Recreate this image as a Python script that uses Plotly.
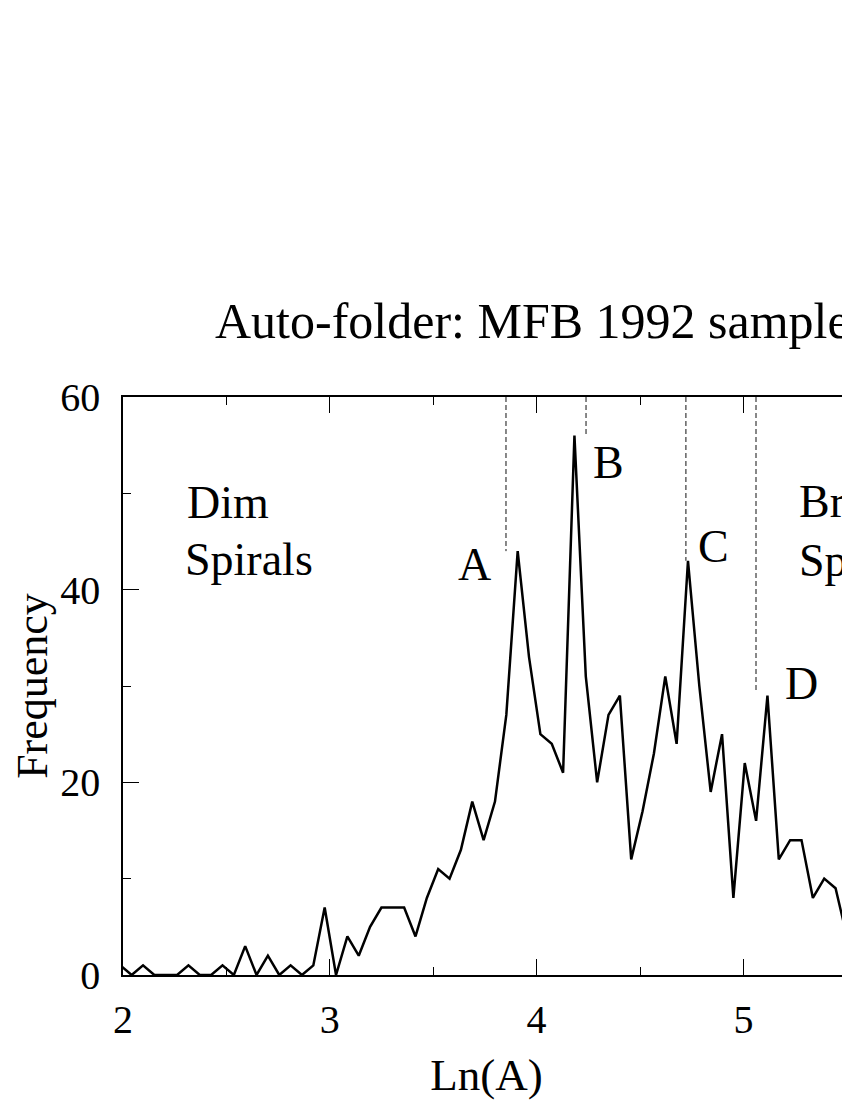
import plotly.graph_objects as go

# ---- data ----
bin_start = 1.987      # Ln(A) of first bin centre
bin_width = 0.0549     # bin width in Ln(A)
frequency = [1, 0, 1, 0, 0, 0, 1, 0, 0, 1,
             0, 3, 0, 2, 0, 1, 0, 1, 7, 0,
             4, 2, 5, 7, 7, 7, 4, 8, 11, 10,
             13, 18, 14, 18, 27, 44, 33, 25, 24, 21,
             56, 31, 20, 27, 29, 12, 17, 23, 31, 24,
             43, 30, 19, 25, 8, 22, 16, 29, 12, 14,
             14, 8, 10, 9, 4, 4]
ln_a = [round(bin_start + i * bin_width, 4) for i in range(len(frequency))]

marker_labels = ["A", "B", "C", "D"]
marker_x = [3.852, 4.239, 4.722, 5.061]
marker_bottom = [44, 56, 43, 29.4]
label_x = [3.702, 4.350, 4.853, 5.279]
label_y = [42.6, 53.2, 44.5, 30.3]

x_ticks = [2, 3, 4, 5]
y_ticks = [0, 20, 40, 60]

# page body adds an 8px offset, so the figure is sized to end at the window edge
OFF = 8
W, H = 850 - OFF, 1100 - OFF
L, R, T, B = 123 - OFF, 0, 397 - OFF, 125
FONT = "Liberation Serif"
x_max = 2 + (W - L - R) / 206.8

fig = go.Figure()

# dashed boundary markers
for xm, yb in zip(marker_x, marker_bottom):
    fig.add_trace(go.Scatter(x=[xm, xm], y=[60, yb], mode="lines",
                             line=dict(color="#111111", width=1, dash="5px,3px"),
                             hoverinfo="skip", showlegend=False))

fig.add_trace(go.Scatter(x=ln_a, y=frequency, mode="lines",
                         line=dict(color="black", width=2.5),
                         showlegend=False))

ann = []
for t, xx, yy in zip(marker_labels, label_x, label_y):
    ann.append(dict(x=xx, y=yy, xref="x", yref="y", text=t, showarrow=False,
                    xanchor="center", yanchor="middle",
                    font=dict(family=FONT, size=46, color="black")))
for t, xx, yy in [("Dim", 2.30, 49.0), ("Spirals", 2.29, 43.1),
                  ("Bright", 5.26, 49.15), ("Spirals", 5.26, 43.0)]:
    ann.append(dict(x=xx, y=yy, xref="x", yref="y", text=t, showarrow=False,
                    xanchor="left", yanchor="middle",
                    font=dict(family=FONT, size=46, color="black")))

fig.update_layout(
    width=W, height=H,
    margin=dict(l=L, r=R, t=T, b=B, pad=0, autoexpand=False),
    paper_bgcolor="white", plot_bgcolor="white",
    font=dict(family=FONT, color="black"),
    title=dict(text="Auto-folder: MFB 1992 sample", xref="container", yref="container",
               x=(217 - OFF - 2) / W, xanchor="left", y=1 - (320 - OFF) / H, yanchor="middle",
               font=dict(family=FONT, size=50, color="black")),
    annotations=ann,
    showlegend=False,
)

fig.update_xaxes(
    automargin=False,
    range=[2, x_max], tickvals=x_ticks, ticktext=[str(v) for v in x_ticks],
    ticks="inside", ticklen=16, tickwidth=1, tickcolor="black",
    showline=True, linecolor="black", linewidth=1.5, mirror="ticks",
    showgrid=False, zeroline=False,
    tickfont=dict(family=FONT, size=40, color="black"), ticklabelstandoff=8,
    minor=dict(dtick=0.5, tick0=2, ticks="inside", ticklen=8, tickwidth=1, tickcolor="black", showgrid=False),
    title=dict(text="Ln(A)", font=dict(family=FONT, size=45, color="black"), standoff=27),
)
fig.update_yaxes(
    automargin=False,
    range=[0, 60], tickvals=y_ticks, ticktext=[str(v) for v in y_ticks],
    ticks="inside", ticklen=16, tickwidth=1, tickcolor="black",
    showline=True, linecolor="black", linewidth=1.5, mirror=False,
    showgrid=False, zeroline=False,
    tickfont=dict(family=FONT, size=40, color="black"), ticklabelstandoff=13,
    minor=dict(dtick=10, tick0=0, ticks="inside", ticklen=8, tickwidth=1, tickcolor="black", showgrid=False),
    title=dict(text="Frequency", font=dict(family=FONT, size=44, color="black"), standoff=47),
)

fig.write_html("out.html", config={"displayModeBar": False})
